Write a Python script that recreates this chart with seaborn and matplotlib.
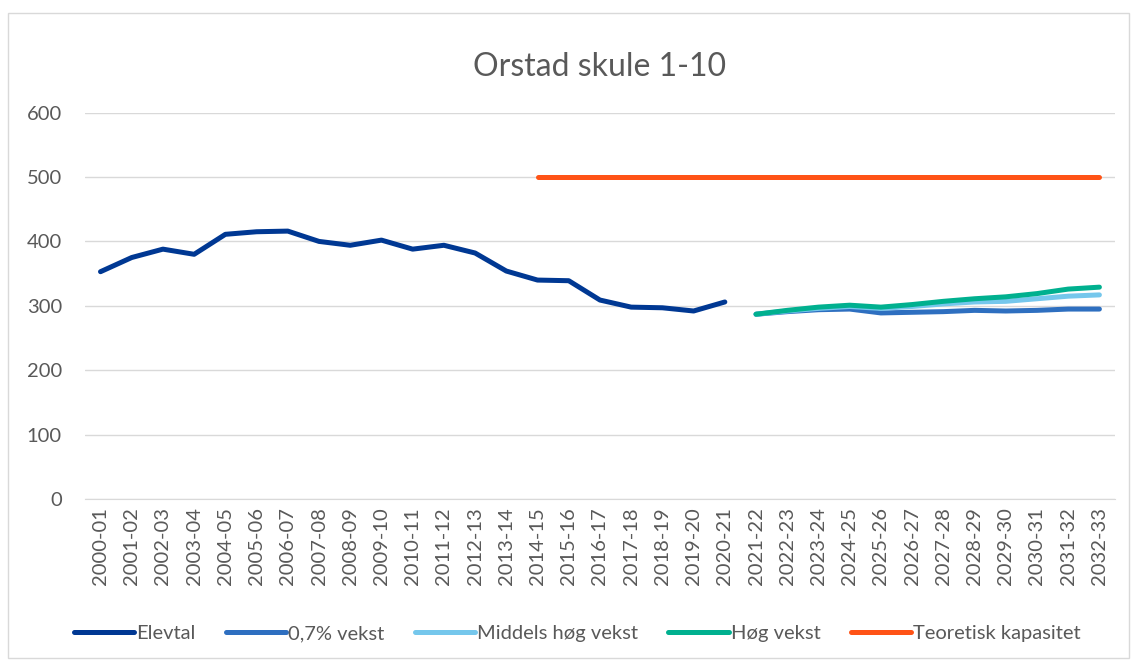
import numpy as np
import pandas as pd
import matplotlib
matplotlib.use("Agg")
import matplotlib.pyplot as plt
from matplotlib.patches import Rectangle
import seaborn as sns

# DATA
years = ["2000-01", "2001-02", "2002-03", "2003-04", "2004-05", "2005-06", "2006-07",
         "2007-08", "2008-09", "2009-10", "2010-11", "2011-12", "2012-13", "2013-14",
         "2014-15", "2015-16", "2016-17", "2017-18", "2018-19", "2019-20", "2020-21",
         "2021-22", "2022-23", "2023-24", "2024-25", "2025-26", "2026-27", "2027-28",
         "2028-29", "2029-30", "2030-31", "2031-32", "2032-33"]

elevtal = [353, 375, 388, 380, 411, 415, 416, 400, 394, 402, 388, 394, 382, 354,
           340, 339, 309, 298, 297, 292, 306]
vekst_07 = [287, 291, 294, 295, 289, 290, 291, 293, 292, 293, 295, 295]
middels = [287, 292, 296, 299, 296, 299, 303, 306, 307, 311, 315, 317]
hog = [287, 293, 298, 301, 298, 302, 307, 311, 314, 319, 326, 329]
kapasitet = [500] * 19

series = [
    ("Elevtal", elevtal, 0, "#003893"),
    ("0,7% vekst", vekst_07, 21, "#2E6FC0"),
    ("Middels høg vekst", middels, 21, "#75C7EC"),
    ("Høg vekst", hog, 21, "#00B08F"),
    ("Teoretisk kapasitet", kapasitet, 14, "#FF5316"),
]

sns.set_style("white")
plt.rcParams["font.family"] = ["Lato", "DejaVu Sans"]
text_col = "#595959"

fig, ax = plt.subplots(figsize=(11.32, 6.62), dpi=100)
fig.subplots_adjust(left=0.075, right=0.985, top=0.83, bottom=0.246)

for name, vals, start, col in series:
    df = pd.DataFrame({"x": np.arange(start, start + len(vals)), "y": vals})
    sns.lineplot(data=df, x="x", y="y", ax=ax, color=col, linewidth=3.6,
                 label=name, solid_capstyle="round")

ax.set_xlim(-0.5, len(years) - 0.5)
ax.set_ylim(0, 600)
ax.set_yticks(range(0, 601, 100))
ax.set_xticks(range(len(years)))
ax.set_xticklabels(years, rotation=90)
ax.tick_params(axis="both", colors=text_col, labelsize=14.5, length=0)
ax.tick_params(axis="x", pad=6)
ax.tick_params(axis="y", pad=16.5)
ax.yaxis.grid(True, color="#D9D9D9", linewidth=1)
ax.set_axisbelow(True)
for side in ["top", "right", "left"]:
    ax.spines[side].set_visible(False)
ax.spines["bottom"].set_color("#D9D9D9")
ax.set_xlabel("")
ax.set_ylabel("")

ax.set_title("Orstad skule 1-10", fontsize=23, color=text_col, pad=26)

ax.get_legend().remove()
handles, labels = ax.get_legend_handles_labels()
fig.legend(handles, labels, loc="center", bbox_to_anchor=(0.51, 0.043), ncol=5,
           frameon=False, fontsize=14.5, handlelength=3.0, handletextpad=0.1,
           columnspacing=1.5, labelcolor=text_col)

fig.patches.append(Rectangle((0.007, 0.006), 0.99, 0.975, transform=fig.transFigure,
                             fill=False, edgecolor="#D9D9D9", linewidth=1))

plt.savefig("out.png", dpi=100)
